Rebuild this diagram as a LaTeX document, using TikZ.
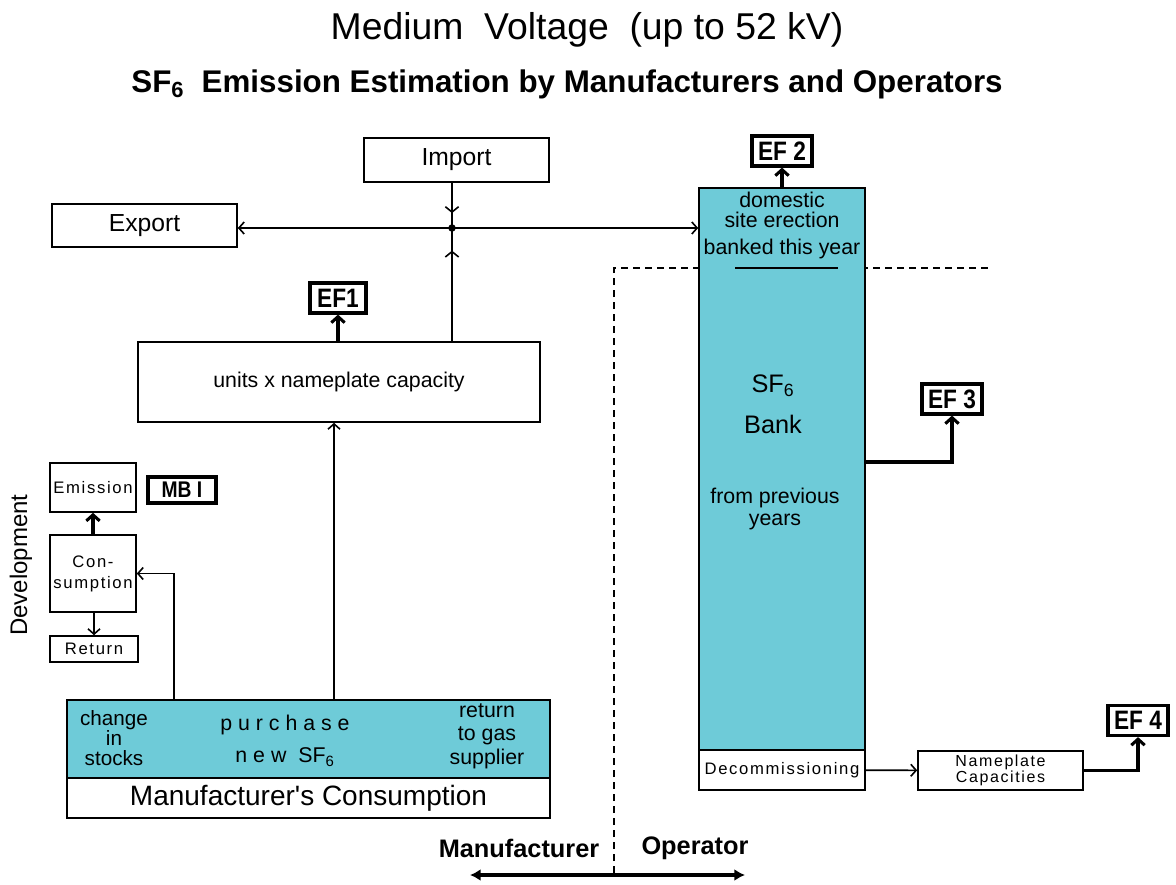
\documentclass[tikz,border=0pt]{standalone}
\usepackage{fontspec}
\setmainfont{Liberation Sans}
\newfontfamily\sysfont[LetterSpace=10]{Liberation Sans}
\newfontfamily\narrowfont[FakeStretch=0.85]{Liberation Sans}
\usetikzlibrary{arrows.meta,decorations.markings}
\definecolor{bankteal}{HTML}{6ECBD8}
\tikzset{
  box/.style={draw, line width=1.2pt, fill=white, inner sep=0pt, align=center},
  tealbox/.style={box, fill=bankteal},
  efbox/.style={draw, line width=2.4pt, fill=white, inner sep=0pt, font=\narrowfont\bfseries\fontsize{20}{20}\selectfont},
  flow/.style={line width=1.2pt, -{Straight Barb[length=4pt,width=9pt]}},
  emit/.style={line width=2.3pt, -{Straight Barb[length=4.5pt,width=10pt]}},
  midflow/.style={line width=1.2pt, postaction={decorate},
    decoration={markings, mark=at position #1 with {\arrow{Straight Barb[length=4pt,width=10pt]}}}},
}
\begin{document}
\begin{tikzpicture}[x=0.75pt,y=-0.75pt]
    \useasboundingbox (0,0) rectangle (1176,884);

    % Titles
    \node (title) at (587,30) {\fontsize{28}{30}\selectfont Medium\ \ Voltage\ \ (up to 52 kV)};
    \node (subtitle) at (567,84) {\fontsize{23.5}{26}\selectfont\bfseries SF\textsubscript{6}\ \ Emission Estimation by Manufacturers and Operators};

    % Manufacturer / operator border (behind the bank)
    \coordinate (divbot) at (614,873);
    \coordinate (divcorner) at (614,268);
    \coordinate (divend) at (990,268);
    \draw[line width=1.2pt, dash pattern=on 5pt off 4pt] (divbot) -- (divcorner) -- (divend);

    % Import and export
    \node[box, minimum width=138.75pt, minimum height=33pt, font=\fontsize{18.5}{20}\selectfont] (import) at (456.5,160) {Import};
    \node[box, minimum width=138.75pt, minimum height=32.25pt, font=\fontsize{18.5}{20}\selectfont] (export) at (144.5,225.5) {Export};
    \coordinate (junc) at (452,228);

    % Manufacturer side
    \node[box, minimum width=301.5pt, minimum height=60pt, font=\fontsize{16}{18}\selectfont] (units) at (339,382) {units x nameplate capacity};
    \node[efbox, minimum width=42pt, minimum height=22.5pt] (ef1) at (338,298) {EF1};
    \node[tealbox, minimum width=362.25pt, minimum height=58.5pt] (purchase) at (308.5,739) {};
    \node[box, minimum width=362.25pt, minimum height=30pt, font=\fontsize{21}{22}\selectfont] (mancons) at (308.5,798) {Manufacturer\textquotesingle s Consumption};
    \node[align=center, font=\fontsize{15.5}{15}\selectfont] (stocks) at (114,738) {change\\in\\stocks};
    \node[align=center, font=\fontsize{16}{24}\selectfont] (buy) at (285,741) {p u r c h a s e\\n e w\ \ SF\textsubscript{6}};
    \node[align=center, font=\fontsize{16}{17.5}\selectfont] (giveback) at (487,736) {return\\to gas\\supplier};
    \coordinate (purx) at (334,0);
    \coordinate (stkx) at (174,0);

    % Development
    \node[box, minimum width=64.5pt, minimum height=36.75pt, font=\sysfont\fontsize{12.5}{14}\selectfont] (emission) at (93,487.5) {Emission};
    \node[efbox, minimum width=51pt, minimum height=19.5pt, font=\narrowfont\bfseries\fontsize{17}{17}\selectfont] (mbi) at (182,490) {MB I};
    \node[box, minimum width=64.5pt, minimum height=57.75pt, font=\sysfont\fontsize{12.5}{15.75}\selectfont] (consum) at (93,573.5) {Con-\\sumption};
    \node[box, minimum width=66pt, minimum height=19.5pt, font=\sysfont\fontsize{12.5}{14}\selectfont] (return) at (94,649) {Return};
    \node[rotate=90, font=\fontsize{18}{20}\selectfont] (devel) at (21,565) {Development};

    % Operator side
    \node[tealbox, minimum width=124.5pt, minimum height=421.5pt] (bank) at (782,469) {};
    \node[box, minimum width=124.5pt, minimum height=30pt, font=\sysfont\fontsize{12.5}{14}\selectfont] (decom) at (782,770) {Decommissioning};
    \node[align=center, font=\fontsize{16}{15}\selectfont] (domestic) at (782,210) {domestic\\site erection};
    \node[font=\fontsize{16}{18}\selectfont] (banked) at (782,249) {banked this year};
    \draw[line width=1.2pt] (735,268) -- (838,268);
    \node[font=\fontsize{19}{20}\selectfont] (sfsix) at (773,386) {SF\textsubscript{6}};
    \node[font=\fontsize{19}{20}\selectfont] (banklbl) at (773,424) {Bank};
    \node[align=center, font=\fontsize{16}{16.5}\selectfont] (prev) at (775,509) {from previous\\years};
    \node[efbox, minimum width=45pt, minimum height=22.5pt] (ef2) at (782,151) {EF 2};
    \node[efbox, minimum width=45pt, minimum height=22.5pt] (ef3) at (952,399) {EF 3};
    \node[box, minimum width=123.75pt, minimum height=29.25pt, font=\sysfont\fontsize{12}{11}\selectfont] (nameplate) at (1000.5,770.5) {Nameplate\\Capacities};
    \node[efbox, minimum width=45pt, minimum height=22.5pt] (ef4) at (1138,720.5) {EF 4};
    \coordinate (ef3out) at (865,462);

    % Flows
    \draw[midflow=0.67] (import.south -| junc) -- (junc);
    \draw[midflow=0.8] (units.north -| junc) -- (junc);
    \fill (junc) circle (2.8pt);
    \draw[flow] (junc) -- (export.east |- junc);
    \draw[flow] (junc) -- (bank.west |- junc);
    \draw[emit] (units.north -| ef1) -- (ef1.south);
    \draw[flow] (purchase.north -| purx) -- (units.south -| purx);
    \draw[flow] (purchase.north -| stkx) |- (consum.east);
    \draw[emit] (consum) -- (emission);
    \draw[flow] (consum.south -| return) -- (return.north);
    \draw[emit] (bank) -- (ef2);
    \draw[emit] (bank.east |- ef3out) -| (ef3.south);
    \draw[flow] (decom) -- (nameplate);
    \draw[emit] (nameplate) -| (ef4.south);

    % Manufacturer / operator labels
    \node[font=\bfseries\fontsize{19}{20}\selectfont] (manuf) at (519,848) {Manufacturer};
    \node[font=\bfseries\fontsize{19}{20}\selectfont] (oper) at (695,848) {Operator};
    \coordinate (sideL) at (470,875);
    \coordinate (sideR) at (745,875);
    \draw[line width=2.6pt, {Latex[length=8pt,width=9pt]}-{Latex[length=8pt,width=9pt]}] (sideL) -- (sideR);
\end{tikzpicture}
\end{document}
